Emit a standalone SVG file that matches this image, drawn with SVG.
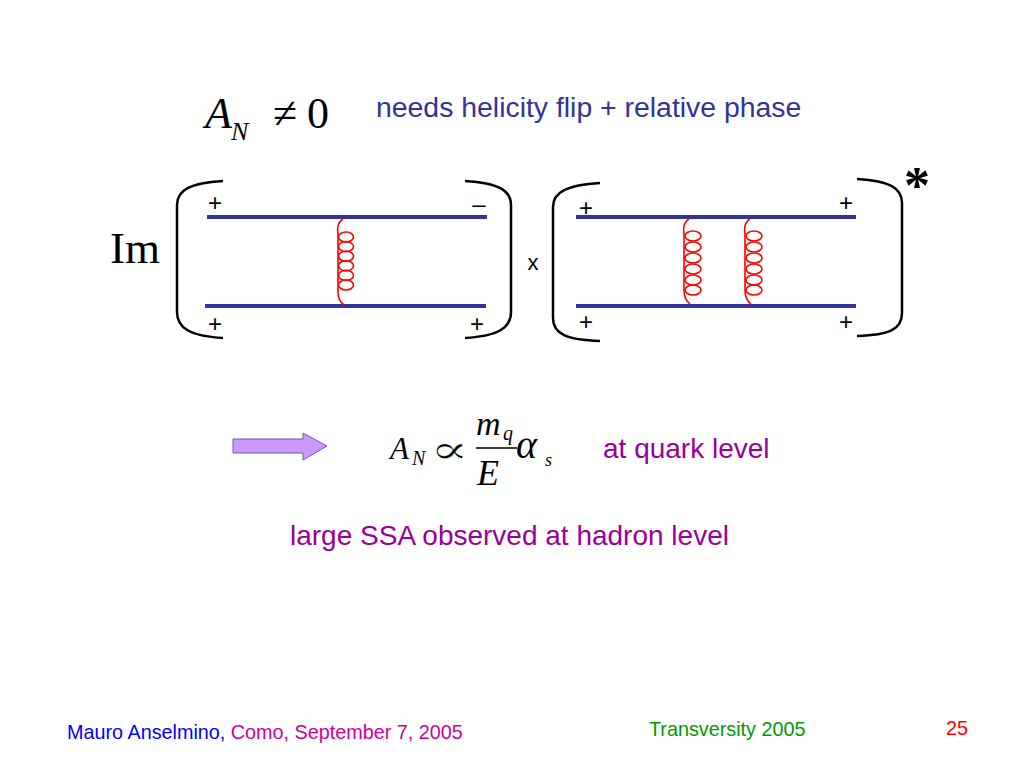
<svg xmlns="http://www.w3.org/2000/svg" width="1024" height="768" viewBox="0 0 1024 768">
<style>
.sans{font-family:"Liberation Sans",Arial,sans-serif}
.serif{font-family:"Liberation Serif","Times New Roman",serif}
.it{font-style:italic}
.br{fill:none;stroke:#000;stroke-width:2.5}
.q{stroke:#333399;stroke-width:4}
.g{fill:none;stroke:#ff0000;stroke-width:1.6}
.pm{font-family:"Liberation Sans",Arial,sans-serif;font-size:24px;fill:#000;text-anchor:middle}
</style>
<rect width="1024" height="768" fill="#fff"/>
<g id="title">
<text class="serif it" x="205" y="128" font-size="44">A</text>
<text class="serif it" x="231" y="140" font-size="26">N</text>
<text class="serif" x="273" y="128" font-size="44">≠</text>
<text class="serif" x="307" y="128" font-size="44">0</text>
<text class="sans" x="376" y="117" font-size="28.4" fill="#333399">needs helicity flip + relative phase</text>
</g>
<g id="im"><text class="serif" x="110" y="263" font-size="45">Im</text></g>
<g id="diagram1">
<path class="br" d="M223,181 C190,183 177,190 177,205 L177,312 C177,328 190,336 223,338"/>
<path class="br" d="M465,181 C498,183 511,190 511,205 L511,312 C511,328 498,336 465,338"/>
<line class="q" x1="207" y1="217" x2="487" y2="217"/>
<line class="q" x1="205" y1="306" x2="486" y2="306"/>
<g class="g">
<path d="M343,219 C338,222 337,228 338,234 L338,292 C338,298 340,302 344,305"/>
<ellipse cx="346" cy="237" rx="7.5" ry="5"/>
<ellipse cx="346" cy="246.6" rx="7.5" ry="5"/>
<ellipse cx="346" cy="256.2" rx="7.5" ry="5"/>
<ellipse cx="346" cy="265.8" rx="7.5" ry="5"/>
<ellipse cx="346" cy="275.4" rx="7.5" ry="5"/>
<ellipse cx="346" cy="285" rx="7.5" ry="5"/>
</g>
<text class="pm" x="215" y="211">+</text>
<text class="pm" x="479" y="212">–</text>
<text class="pm" x="215" y="332">+</text>
<text class="pm" x="477" y="332">+</text>
</g>
<g id="times"><text class="sans" x="533" y="270" font-size="22" text-anchor="middle">x</text></g>
<g id="diagram2">
<path class="br" d="M600,183 C567,185 553,192 553,207 L553,318 C553,334 567,340 600,341"/>
<path class="br" d="M857,179 C890,181 902,188 902,203 L902,313 C902,329 890,335 857,336"/>
<line class="q" x1="576" y1="217" x2="856" y2="217"/>
<line class="q" x1="576" y1="306" x2="856" y2="306"/>
<g class="g">
<path d="M689,219 C684,222 683,228 684,234 L684,290 C684,297 686,301 690,304"/>
<ellipse cx="693" cy="236" rx="8" ry="5"/>
<ellipse cx="693" cy="247" rx="8" ry="5"/>
<ellipse cx="693" cy="258" rx="8" ry="5"/>
<ellipse cx="693" cy="269" rx="8" ry="5"/>
<ellipse cx="693" cy="280" rx="8" ry="5"/>
<ellipse cx="693" cy="290" rx="8" ry="5"/>
<path d="M750,219 C745,222 744,228 745,234 L745,290 C745,297 747,301 751,304"/>
<ellipse cx="754" cy="236" rx="8" ry="5"/>
<ellipse cx="754" cy="247" rx="8" ry="5"/>
<ellipse cx="754" cy="258" rx="8" ry="5"/>
<ellipse cx="754" cy="269" rx="8" ry="5"/>
<ellipse cx="754" cy="280" rx="8" ry="5"/>
<ellipse cx="754" cy="290" rx="8" ry="5"/>
</g>
<text class="pm" x="586" y="216">+</text>
<text class="pm" x="846" y="211">+</text>
<text class="pm" x="586" y="330">+</text>
<text class="pm" x="846" y="330">+</text>
</g>
<g id="star"><text class="serif" x="904" y="203" font-size="52" font-weight="bold">*</text></g>
<g id="arrow"><polygon points="233,439 303,439 303,433 327,446 303,460 303,453 233,453" fill="#cc99ff" stroke="#7755aa" stroke-width="1"/></g>
<g id="formula">
<text class="serif it" x="390" y="459" font-size="31">A</text>
<text class="serif it" x="412" y="465" font-size="20">N</text>
<text transform="translate(430,463) scale(1.8,1.25)" x="0" y="0" font-size="32" font-family="DejaVu Serif, serif" stroke="#fff" stroke-width="0.5">∝</text>
<text class="serif it" x="476" y="435" font-size="34">m</text>
<text class="serif it" x="503" y="440" font-size="20">q</text>
<line x1="476" y1="448" x2="517" y2="448" stroke="#000" stroke-width="1.5"/>
<text class="serif it" x="477" y="485" font-size="36">E</text>
<text class="serif it" x="516" y="458" font-size="40">α</text>
<text class="serif it" x="545" y="466" font-size="18">s</text>
<text class="sans" x="603" y="458" font-size="28" fill="#990099">at quark level</text>
</g>
<g id="note"><text class="sans" x="290" y="545" font-size="28" fill="#990099">large SSA observed at hadron level</text></g>
<g id="footer">
<text class="sans" x="67" y="739" font-size="19.8"><tspan fill="#0000ff">Mauro Anselmino, </tspan><tspan fill="#cc0099">Como, September 7, 2005</tspan></text>
<text class="sans" x="649" y="736" font-size="19.8" fill="#009900">Transversity 2005</text>
<text class="sans" x="946" y="735" font-size="19.8" fill="#ff0000">25</text>
</g>
</svg>
